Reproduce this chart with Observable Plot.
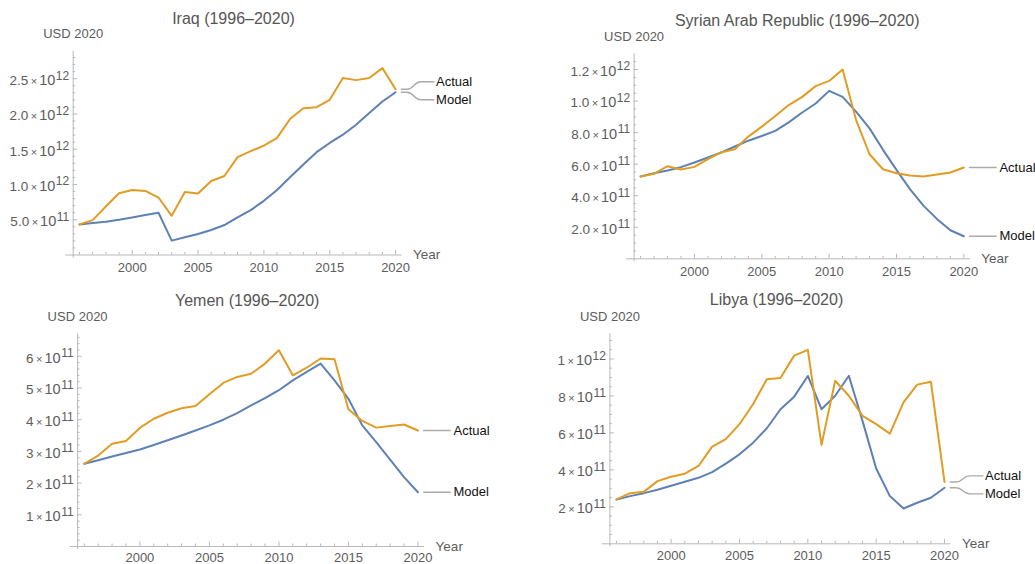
<!DOCTYPE html>
<html><head><meta charset="utf-8">
<script src="https://cdn.jsdelivr.net/npm/d3@7"></script>
<script src="https://cdn.jsdelivr.net/npm/@observablehq/plot@0.6"></script>
<style>
body{margin:0;background:#fff;}
#wrap{position:relative;width:1035px;height:564px;overflow:hidden;background:#fff;}
#wrap svg{position:absolute;}
</style></head><body><div id="wrap"></div>
<script>
// ---------- data ----------
const years = [1996,1997,1998,1999,2000,2001,2002,2003,2004,2005,2006,2007,2008,2009,2010,2011,2012,2013,2014,2015,2016,2017,2018,2019,2020];

// Iraq (×1e12 USD 2020)
const iraqActual = [0.434,0.495,0.688,0.876,0.923,0.908,0.815,0.556,0.894,0.871,1.049,1.12,1.387,1.472,1.552,1.66,1.932,2.082,2.096,2.2,2.51,2.48,2.51,2.65,2.35];
const iraqModel  = [0.434,0.453,0.472,0.5,0.533,0.566,0.599,0.204,0.251,0.298,0.354,0.425,0.533,0.636,0.768,0.923,1.106,1.284,1.458,1.589,1.706,1.847,2.012,2.176,2.308];
// Syria (×1e12)
const syriaActual = [0.522,0.539,0.587,0.566,0.583,0.632,0.676,0.695,0.775,0.838,0.905,0.975,1.027,1.095,1.128,1.2,0.88,0.663,0.568,0.543,0.528,0.522,0.535,0.547,0.579];
const syriaModel  = [0.522,0.543,0.56,0.581,0.611,0.642,0.674,0.712,0.749,0.779,0.811,0.865,0.928,0.985,1.065,1.027,0.933,0.827,0.691,0.564,0.442,0.337,0.253,0.181,0.143];
// Yemen (×1e11)
const yemenActual = [2.61,2.87,3.24,3.33,3.74,4.03,4.22,4.36,4.43,4.80,5.16,5.35,5.45,5.77,6.19,5.40,5.64,5.93,5.91,4.33,3.96,3.75,3.80,3.85,3.66];
const yemenModel  = [2.61,2.72,2.84,2.95,3.06,3.20,3.35,3.50,3.66,3.82,4.00,4.21,4.45,4.68,4.93,5.24,5.51,5.77,5.24,4.66,3.82,3.29,2.74,2.19,1.71];
// Libya (×1e12)
const libyaActual = [0.240,0.274,0.281,0.339,0.363,0.379,0.421,0.526,0.566,0.647,0.756,0.89,0.897,1.018,1.049,0.535,0.882,0.801,0.692,0.647,0.596,0.765,0.861,0.877,0.334];
const libyaModel  = [0.240,0.258,0.274,0.292,0.314,0.336,0.357,0.388,0.434,0.484,0.547,0.625,0.728,0.796,0.908,0.728,0.801,0.909,0.665,0.407,0.258,0.191,0.222,0.249,0.303];

// tick values and labels
const xTicks = [2000,2005,2010,2015,2020];
const xTickLabels = ["2000","2005","2010","2015","2020"];
const iraqYTicks = [5e11,1e12,1.5e12,2e12,2.5e12];
const iraqYLabels = ["5.0×10^11","1.0×10^12","1.5×10^12","2.0×10^12","2.5×10^12"];
const syriaYTicks = [2e11,4e11,6e11,8e11,1e12,1.2e12];
const syriaYLabels = ["2.0×10^11","4.0×10^11","6.0×10^11","8.0×10^11","1.0×10^12","1.2×10^12"];
const yemenYTicks = [1e11,2e11,3e11,4e11,5e11,6e11];
const yemenYLabels = ["1×10^11","2×10^11","3×10^11","4×10^11","5×10^11","6×10^11"];
const libyaYTicks = [2e11,4e11,6e11,8e11,1e12];
const libyaYLabels = ["2×10^11","4×10^11","6×10^11","8×10^11","1×10^12"];

const seriesNames = ["Actual","Model"];
const titles = ["Iraq (1996–2020)","Syrian Arab Republic (1996–2020)","Yemen (1996–2020)","Libya (1996–2020)"];
const yUnit = "USD 2020";
const xName = "Year";

// ---------- layout / style ----------
const ORANGE = "#E19C24", BLUE = "#5E81B5", AXIS = "#b8b8b8", TXT = "#5c5c5c", LEADER = "#ababab";
const FONT = "'Liberation Sans', Arial, Helvetica, sans-serif";
const X0 = 1995.52, X1 = 2020.48;

const panels = [
  {title: titles[0], actual: iraqActual, model: iraqModel, unit: 1e12, yTicks: iraqYTicks, yLabels: iraqYLabels, minor: 1e11,
   left: 0, top: 0, width: 517, height: 282, ml: 72.7, mr: 115.6, mt: 50.7, mb: 27.5, ymax: 2.89e12, tx: 233, ty: 18, xpad: 7.5},
  {title: titles[1], actual: syriaActual, model: syriaModel, unit: 1e12, yTicks: syriaYTicks, yLabels: syriaYLabels, minor: 5e10,
   left: 520, top: 0, width: 515, height: 282, ml: 113.6, mr: 65.2, mt: 53.3, mb: 23.7, ymax: 1.30e12, tx: 276.7, ty: 20, xpad: 7.5},
  {title: titles[2], actual: yemenActual, model: yemenModel, unit: 1e11, yTicks: yemenYTicks, yLabels: yemenYLabels, minor: 2e10,
   left: 0, top: 280, width: 520, height: 284, ml: 77.1, mr: 95.9, mt: 53.3, mb: 18, ymax: 6.71e11, tx: 246.7, ty: 20, xpad: 6.5},
  {title: titles[3], actual: libyaActual, model: libyaModel, unit: 1e12, yTicks: libyaYTicks, yLabels: libyaYLabels, minor: 5e10,
   left: 520, top: 280, width: 515, height: 284, ml: 89.4, mr: 84.4, mt: 53.3, mb: 20.7, ymax: 1.136e12, tx: 256, ty: 19, xpad: 7}
];

function superscriptLabels(svg) {
  const ns = "http://www.w3.org/2000/svg";
  svg.querySelectorAll("text").forEach(t => {
    const s = t.textContent;
    if (!s.includes("^") || t.children.length > 1) return;
    const [base, exp] = s.split("^");
    const [mant] = base.split("×");
    t.textContent = "";
    const a = document.createElementNS(ns, "tspan"); a.textContent = mant; a.setAttribute("font-size", "13.5");
    const b = document.createElementNS(ns, "tspan"); b.textContent = "×"; b.setAttribute("font-size", "11"); b.setAttribute("dx", "2.5");
    const c = document.createElementNS(ns, "tspan"); c.textContent = "10"; c.setAttribute("font-size", "14.5"); c.setAttribute("dx", "2");
    const d = document.createElementNS(ns, "tspan"); d.textContent = exp; d.setAttribute("font-size", "12"); d.setAttribute("dx", "0.5"); d.setAttribute("dy", "-5.5");
    t.append(a, b, c, d);
  });
}

const wrap = document.getElementById("wrap");

for (const p of panels) {
  const pw = p.width - p.ml - p.mr;
  const ph = p.height - p.mt - p.mb;
  const ppy = pw / (X1 - X0);
  const py = v => p.mt + (1 - v / p.ymax) * ph;
  const pv = px => (1 - (px - p.mt) / ph) * p.ymax;

  const actualRows = years.map((year, i) => ({year, value: p.actual[i] * p.unit}));
  const modelRows = years.map((year, i) => ({year, value: p.model[i] * p.unit}));

  // end labels
  const aEnd = actualRows[actualRows.length - 1].value;
  const mEnd = modelRows[modelRows.length - 1].value;
  let pa = py(aEnd), pm = py(mEnd);
  const close = Math.abs(pa - pm) < 18;
  let la = pa, lm = pm;
  if (close) {
    const mid = (pa + pm) / 2;
    if (pa <= pm) { la = mid - 9; lm = mid + 9; } else { la = mid + 9; lm = mid - 9; }
  }
  const lastYear = years[years.length - 1];
  const xs = off => lastYear + off / ppy;
  const leader = [];
  const ends = [[seriesNames[0], aEnd, pv(la)], [seriesNames[1], mEnd, pv(lm)]];
  for (const [name, v, lv] of ends) {
    if (close) {
      leader.push({name, x: xs(5.7), y: v}, {name, x: xs(11.5), y: v}, {name, x: xs(25), y: lv}, {name, x: xs(38.3), y: lv});
    } else {
      leader.push({name, x: xs(5.7), y: v}, {name, x: xs(32.2), y: lv});
    }
  }
  const labelRows = ends.map(([name, v, lv]) => ({name, x: xs(close ? 40.5 : 35.6), y: lv}));

  const yMinor = d3.range(p.minor, p.ymax, p.minor).filter(v => !p.yTicks.some(t => Math.abs(t - v) < p.minor * 0.01));
  const xMinor = years.filter(y => !xTicks.includes(y));
  const yBelow = -3 * p.ymax / ph;
  const xLeft = X0 - 7.5 / ppy;

  const chart = Plot.plot({
    width: p.width, height: p.height,
    marginLeft: p.ml, marginRight: p.mr, marginTop: p.mt, marginBottom: p.mb,
    x: {domain: [X0, X1]},
    y: {domain: [0, p.ymax]},
    style: {fontFamily: FONT, fontSize: "13px", color: TXT, background: "transparent", overflow: "visible"},
    marks: [
      // axes lines
      Plot.ruleY([0], {x1: xLeft, x2: X1, stroke: AXIS, strokeWidth: 1}),
      Plot.ruleX([X0], {y1: yBelow, y2: p.ymax, stroke: AXIS, strokeWidth: 1}),
      // ticks (inward)
      Plot.tickY(p.yTicks, {y: d => d, insetRight: pw - 4.5, stroke: AXIS}),
      Plot.tickY(yMinor, {y: d => d, insetRight: pw - 2.5, stroke: AXIS}),
      Plot.tickX(xTicks, {x: d => d, insetTop: ph - 4.5, stroke: AXIS}),
      Plot.tickX(xMinor, {x: d => d, insetTop: ph - 2.5, stroke: AXIS}),
      // tick labels
      Plot.axisY({ticks: p.yTicks, tickFormat: d => p.yLabels[p.yTicks.indexOf(d)], tickSize: 0, tickPadding: 4, dy: 2, label: null, fontSize: 13.5, fill: TXT}),
      Plot.axisX({ticks: xTicks, tickFormat: d => xTickLabels[xTicks.indexOf(d)], tickSize: 0, tickPadding: p.xpad, label: null, fontSize: 13, fill: TXT}),
      // data
      Plot.line(modelRows, {x: "year", y: "value", stroke: BLUE, strokeWidth: 2}),
      Plot.line(actualRows, {x: "year", y: "value", stroke: ORANGE, strokeWidth: 2}),
      // leaders + labels
      Plot.line(leader, {x: "x", y: "y", z: "name", curve: "bump-x", stroke: LEADER, strokeWidth: 1.4}),
      Plot.text(labelRows, {x: "x", y: "y", text: "name", textAnchor: "start", lineAnchor: "middle", fill: "#111", fontSize: 13}),
      // titles
      Plot.text([p.title], {frameAnchor: "top-left", dx: p.tx - p.ml, dy: p.ty - p.mt, textAnchor: "middle", lineAnchor: "middle", fontSize: 16, fill: "#555"}),
      Plot.text([yUnit], {frameAnchor: "top-left", dy: -17, textAnchor: "middle", lineAnchor: "middle", fontSize: 13, fill: TXT}),
      Plot.text([xName], {frameAnchor: "bottom-right", dx: 11, dy: 0, textAnchor: "start", lineAnchor: "middle", fontSize: 13.5, fill: TXT})
    ]
  });
  chart.style.left = p.left + "px";
  chart.style.top = p.top + "px";
  superscriptLabels(chart);
  wrap.appendChild(chart);
}
</script>
</body></html>
